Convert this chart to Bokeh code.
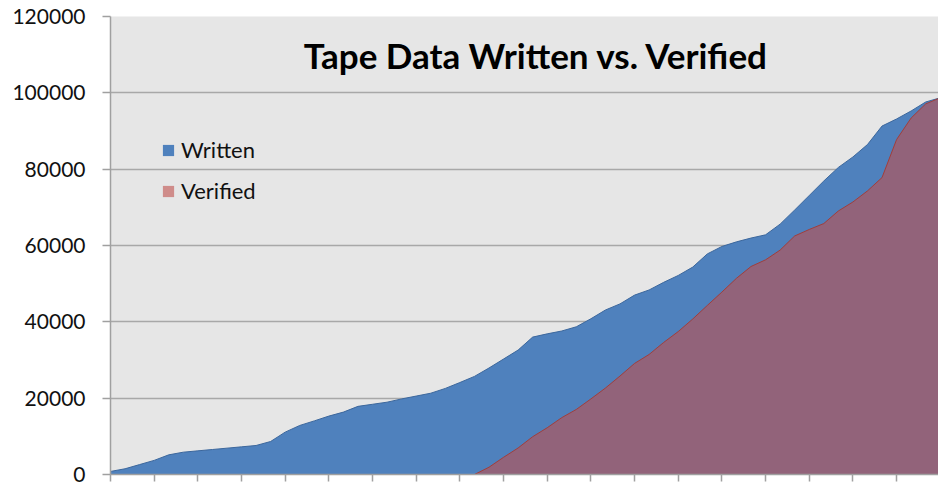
from bokeh.plotting import figure
from bokeh.models import Range1d, FixedTicker, Label, Legend, LegendItem
from bokeh.embed import file_html
from bokeh.resources import INLINE

# ---- data ----
period = list(range(58))
written = [800, 1500, 2600, 3700, 5150, 5850, 6200, 6550, 6900, 7250,
           7600, 8650, 11100, 12850, 14050, 15300, 16350, 17850, 18400, 18950,
           19800, 20550, 21300, 22550, 24100, 25700, 27900, 30250, 32600, 36000,
           36850, 37600, 38700, 40800, 43100, 44700, 47000, 48350, 50350, 52150,
           54350, 57800, 59750, 60950, 61950, 62800, 65600, 69300, 73100, 76900,
           80450, 83200, 86450, 91300, 93150, 95250, 97600, 98700]
verified = [0, 0, 0, 0, 0, 0, 0, 0, 0, 0,
            0, 0, 0, 0, 0, 0, 0, 0, 0, 0,
            0, 0, 0, 0, 0, 0, 1900, 4500, 6950, 9900,
            12250, 14900, 17050, 19800, 22650, 25800, 29100, 31450, 34600, 37450,
            40750, 44300, 47800, 51400, 54500, 56250, 58800, 62500, 64200, 65750,
            69050, 71400, 74300, 77800, 87750, 93400, 97100, 98700]
y_ticks = [0, 20000, 40000, 60000, 80000, 100000, 120000]
x_ticks = list(range(0, 58, 3))
series_names = ["Written", "Verified"]
title_text = "Tape Data Written vs. Verified"

p = figure(width=938, height=483, output_backend="svg", toolbar_location=None,
           x_range=Range1d(0, 56.88), y_range=Range1d(0, 120000),
           min_border_left=110, min_border_right=0, min_border_top=16,
           min_border_bottom=9)
p.background_fill_color = "#E6E6E6"
p.border_fill_color = "white"
p.outline_line_color = None

r_w = p.varea(x=period, y1=0, y2=written, fill_color="#4F81BD")
p.line(period, written, line_color="#3C679C", line_width=1)
r_v = p.varea(x=period, y1=0, y2=verified, fill_color="#C0504D", fill_alpha=0.6)
p.line(period, verified, line_color="#A23E3B", line_width=1)

# axes
p.xgrid.visible = False
p.ygrid.grid_line_color = "#A8A8A8"
p.ygrid.grid_line_width = 1.5
p.ygrid.ticker = FixedTicker(ticks=y_ticks)
p.yaxis.ticker = FixedTicker(ticks=y_ticks)
p.yaxis.axis_line_color = "#A0A0A0"
p.yaxis.axis_line_width = 1.5
p.yaxis.major_tick_line_color = "#A0A0A0"
p.yaxis.major_tick_line_width = 1.5
p.yaxis.major_tick_in = 0
p.yaxis.major_tick_out = 8
p.yaxis.minor_tick_line_color = None
p.yaxis.major_label_standoff = 17
p.yaxis.major_label_text_font = "Lato"
p.yaxis.major_label_text_font_size = "21px"
p.yaxis.major_label_text_color = "#111111"
p.yaxis.formatter.use_scientific = False

p.xaxis.ticker = FixedTicker(ticks=x_ticks)
p.xaxis.axis_line_color = "#A0A0A0"
p.xaxis.axis_line_width = 1.5
p.xaxis.major_tick_line_color = "#A0A0A0"
p.xaxis.major_tick_line_width = 1.5
p.xaxis.major_tick_in = 0
p.xaxis.major_tick_out = 7
p.xaxis.minor_tick_line_color = None
p.xaxis.major_label_standoff = 0
p.xaxis.major_label_overrides = {t: "" for t in x_ticks}
p.xaxis.major_label_text_font_size = "1px"

# title inside the plot area
p.add_layout(Label(x=29.27, y=109800, text=title_text, text_font="Lato",
                   text_font_style="bold", text_font_size="35px",
                   text_align="center", text_baseline="middle",
                   text_color="#000000"))

legend = Legend(items=[LegendItem(label=series_names[0], renderers=[r_w]),
                       LegendItem(label=series_names[1], renderers=[r_v])],
                location=(51, 270), orientation="vertical",
                background_fill_alpha=0, border_line_alpha=0,
                padding=0, margin=0, spacing=14,
                glyph_width=14, glyph_height=14, label_height=27,
                label_standoff=6, label_text_font="Lato",
                label_text_font_size="22px", label_text_color="#111111")
p.add_layout(legend)

open("out.html", "w").write(file_html(p, INLINE))
